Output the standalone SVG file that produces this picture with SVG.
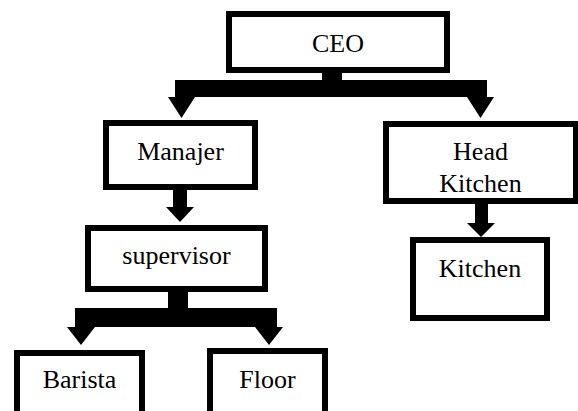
<svg xmlns="http://www.w3.org/2000/svg" width="578" height="411" viewBox="0 0 578 411">
<style>
.box{fill:#fff;stroke:#000;stroke-width:6}
.lbl{font-family:'Liberation Serif','DejaVu Serif',serif;font-size:26px;fill:#000;text-anchor:middle}
.conn{fill:#000;stroke:none}
</style>
<rect width="578" height="411" fill="#fff"/>
<g id="connectors">
<path class="conn" d="M322,70 H342 V80 H487 V97 H494 L480.5,118 L467,97 H195 L181.5,118 L168,97 H175 V80 H322 Z"/>
<path class="conn" d="M173,187 H187 V207 H194 L180,222 L166,207 H173 Z"/>
<path class="conn" d="M168,289 H188 V308 H277 V327 H283 L269,345 L255,327 H95 L81,345 L67,327 H75 V308 H168 Z"/>
<path class="conn" d="M475,201 H488 V223 H495 L481,237 L467,223 H475 Z"/>
</g>
<g id="ceo"><rect class="box" x="229" y="14" width="218" height="56"/><text class="lbl" x="338" y="52">CEO</text></g>
<g id="manajer"><rect class="box" x="106" y="123" width="149" height="64"/><text class="lbl" x="180.5" y="160">Manajer</text></g>
<g id="supervisor"><rect class="box" x="88" y="228" width="177" height="61"/><text class="lbl" x="176.5" y="264">supervisor</text></g>
<g id="head-kitchen"><rect class="box" x="386" y="124" width="190" height="77"/><text class="lbl" x="480.5" y="160">Head</text><text class="lbl" x="480.5" y="191.5">Kitchen</text></g>
<g id="kitchen"><rect class="box" x="413" y="240" width="134" height="78"/><text class="lbl" x="480" y="276.5">Kitchen</text></g>
<g id="barista"><rect class="box" x="17" y="353" width="125" height="62"/><text class="lbl" x="79.5" y="388">Barista</text></g>
<g id="floor"><rect class="box" x="210" y="351" width="115" height="64"/><text class="lbl" x="267.5" y="388">Floor</text></g>
</svg>
